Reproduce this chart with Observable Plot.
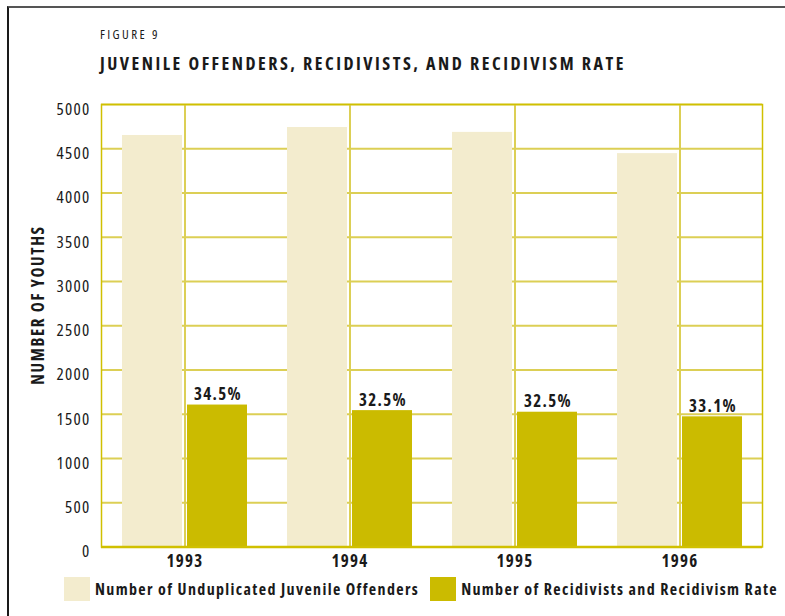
<!DOCTYPE html>
<html>
<head>
<meta charset="utf-8">
<script src="https://cdn.jsdelivr.net/npm/d3@7"></script>
<script src="https://cdn.jsdelivr.net/npm/@observablehq/plot@0.6"></script>
<style>
  html, body { margin: 0; padding: 0; background: #fff; }
  body { width: 785px; height: 616px; overflow: hidden; position: relative;
         font-family: "Open Sans", sans-serif; font-stretch: 75%; color: #1a1a1a; }
  svg text { font-stretch: 75%; }
  #frame { position: absolute; left: 7px; top: 6px; width: 900px; height: 700px;
           border-left: 2px solid #1a1a1a; border-top: 2px solid #555; }
  #fig { position: absolute; left: 100px; top: 25px; font-size: 13px; letter-spacing: 2.4px; }
  #title { position: absolute; left: 100px; top: 51px; font-size: 18px; font-weight: bold; letter-spacing: 2.5px; white-space: nowrap; }
  #chart { position: absolute; left: 0; top: 90px; }
  #ylabel { position: absolute; left: 37px; top: 305px; transform: translate(-50%, -50%) rotate(-90deg);
            font-size: 17px; font-weight: bold; letter-spacing: 1.6px; white-space: nowrap; }
  #legend { position: absolute; left: 64px; top: 577px; display: flex; align-items: center; font-size: 16px; font-weight: bold; letter-spacing: 1.35px; white-space: nowrap; }
  .sw { width: 26px; height: 24px; display: inline-block; margin-right: 5px; }
  .item { display: flex; align-items: center; margin-right: 11px; }
</style>
</head>
<body>
<div id="frame"></div>
<div id="fig">FIGURE 9</div>
<div id="title">JUVENILE OFFENDERS, RECIDIVISTS, AND RECIDIVISM RATE</div>
<div id="ylabel">NUMBER OF YOUTHS</div>
<div id="chart"></div>
<div id="legend"></div>
<script>
const years = ["1993", "1994", "1995", "1996"];
const offenders = [4650, 4740, 4685, 4445];
const recidivists = [1604, 1541, 1523, 1471];
const rates = ["34.5%", "32.5%", "32.5%", "33.1%"];
const yTicks = [0, 500, 1000, 1500, 2000, 2500, 3000, 3500, 4000, 4500, 5000];
const seriesNames = ["Number of Unduplicated Juvenile Offenders", "Number of Recidivists and Recidivism Rate"];
const seriesColors = ["#f3ecce", "#cbbb00"];

const rows = years.map((y, i) => ({year: y, offenders: offenders[i], recidivists: recidivists[i], rate: rates[i]}));

const gridColor = "#dccf55";
const frameColor = "#d0c000";
const font = '"Open Sans", sans-serif';

const chart = Plot.plot({
  width: 785,
  height: 490,
  marginTop: 14,
  marginBottom: 33.5,
  marginLeft: 101,
  marginRight: 23,
  style: {fontFamily: font, background: "transparent", color: "#1a1a1a"},
  x: {domain: years, padding: 0, label: null},
  y: {domain: [0, 5000], label: null},
  marks: [
    Plot.ruleY(yTicks, {stroke: gridColor, strokeWidth: 2}),
    Plot.ruleX(years, {x: d => d, stroke: gridColor, strokeWidth: 2}),
    Plot.barY(rows, {x: "year", y: "offenders", fill: seriesColors[0], insetLeft: 20, insetRight: 85}),
    Plot.barY(rows, {x: "year", y: "recidivists", fill: seriesColors[1], insetLeft: 85, insetRight: 20}),
    Plot.frame({stroke: frameColor, strokeWidth: 1.5}),
    Plot.ruleY([0], {stroke: frameColor, strokeWidth: 2.5}),
    Plot.text(rows, {x: "year", y: "recidivists", text: "rate", dx: 33, dy: -5, lineAnchor: "bottom",
      fontSize: 17, fontWeight: "bold", fill: "#1a1a1a"}),
    Plot.axisY(yTicks, {tickSize: 0, tickPadding: 11, fontSize: 17, dy: 5, label: null, fill: "#1a1a1a", tickFormat: d => String(d)}),
    Plot.axisX(years, {tickSize: 0, tickPadding: 8, fontSize: 17, fontWeight: "bold", label: null, fill: "#1a1a1a"})
  ]
});
chart.querySelectorAll("text").forEach(t => { t.style.letterSpacing = "1.3px"; t.style.fontStretch = "75%"; });
document.getElementById("chart").appendChild(chart);

const legend = document.getElementById("legend");
seriesNames.forEach((name, i) => {
  const item = document.createElement("div");
  item.className = "item";
  const sw = document.createElement("span");
  sw.className = "sw";
  sw.style.background = seriesColors[i];
  const lab = document.createElement("span");
  lab.textContent = name;
  item.appendChild(sw);
  item.appendChild(lab);
  legend.appendChild(item);
});
</script>
</body>
</html>
